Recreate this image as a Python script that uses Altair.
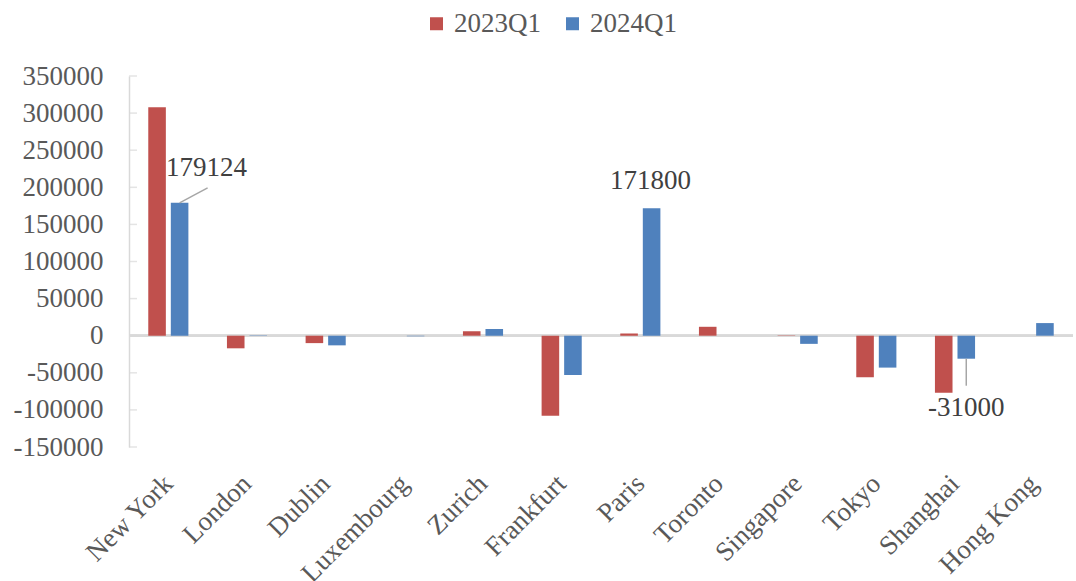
import altair as alt
import pandas as pd

cities = ["New York", "London", "Dublin", "Luxembourg", "Zurich", "Frankfurt",
          "Paris", "Toronto", "Singapore", "Tokyo", "Shanghai", "Hong Kong"]
series = ["2023Q1", "2024Q1"]
q2023 = [308000, -17000, -10000, 0, 6000, -108000, 3000, 12000, 500, -56000, -77000, 0]
q2024 = [179124, 500, -13000, -800, 9000, -53000, 171800, 0, -11000, -43000, -31000, 17000]
y_ticks = [-150000, -100000, -50000, 0, 50000, 100000, 150000, 200000, 250000, 300000, 350000]
colors = ["#C0504D", "#4F81BD"]

# annotations: city, series, value, label text
ann_city = ["New York", "Paris", "Shanghai"]
ann_value = [179124, 171800, -31000]
ann_text = ["179124", "171800", "-31000"]

FONT = "Liberation Serif"
FS = 27

rows = []
for c, a, b in zip(cities, q2023, q2024):
    rows.append({"city": c, "series": series[0], "value": a})
    rows.append({"city": c, "series": series[1], "value": b})
df = pd.DataFrame(rows)

ann = pd.DataFrame({"city": ann_city, "series": series[1], "value": ann_value, "label": ann_text})
ticks_df = pd.DataFrame({"v": y_ticks})

x_scale = alt.Scale(domain=cities, paddingInner=0.49, paddingOuter=0.245)
x_axis = alt.Axis(title=None, domain=False, ticks=False, labelAngle=-45,
                  labelAlign="right", labelBaseline="top", labelPadding=23,
                  labelFontSize=FS, labelColor="#595959", labelFont=FONT,
                  labelOffset=-9, labelOverlap=False, labelBound=False)
xo_scale = alt.Scale(domain=series, paddingInner=0.22)
y_scale = alt.Scale(domain=[-150000, 350000], nice=False)
y_axis = alt.Axis(title=None, values=y_ticks, grid=False, tickSize=0,
                  labelExpr="datum.value + ''",
                  labelOverlap=False, labelBound=False, labelFlush=False,
                  domainColor="#D9D9D9", domainWidth=1.5,
                  labelPadding=26, labelFontSize=FS, labelColor="#595959",
                  labelFont=FONT)


def X(field="city:N"):
    return alt.X(field, sort=cities, scale=x_scale, axis=x_axis)


def XO():
    return alt.XOffset("series:N", scale=xo_scale)


def Y(field="value:Q"):
    return alt.Y(field, scale=y_scale, axis=y_axis)


bars = alt.Chart(df).mark_bar().encode(
    x=X(),
    xOffset=XO(),
    y=Y(),
    color=alt.Color("series:N", scale=alt.Scale(domain=series, range=colors),
                    legend=alt.Legend(title=None, orient="none", legendX=294, legendY=-66,
                                      direction="horizontal", symbolType="square",
                                      symbolSize=169, symbolStrokeWidth=0,
                                      labelFontSize=FS, labelFont=FONT, labelColor="#595959",
                                      labelOffset=4, columnPadding=18, padding=0)),
)

zero = alt.Chart(df).mark_rule(color="#D9D9D9", strokeWidth=2).encode(
    y=alt.datum(0, scale=y_scale, axis=y_axis))

inner_ticks = alt.Chart(ticks_df).mark_tick(orient="horizontal", color="#D9D9D9",
                                            size=8, thickness=1.5).encode(
    y=Y("v:Q"), x=alt.value(4))

layers = [zero, bars, inner_ticks]

offsets = {
    "New York": dict(dx=27, dy=-35, path="M0,0L2.8,-1.5"),
    "Paris": dict(dx=-1, dy=-27, path=None),
    "Shanghai": dict(dx=0, dy=49, path="M0,0L0,2.7"),
}
for c in ann_city:
    sub = ann[ann["city"] == c]
    o = offsets[c]
    layers.append(alt.Chart(sub).mark_text(dx=o["dx"], dy=o["dy"], fontSize=FS, font=FONT,
                                           color="#404040", baseline="middle", align="center")
                  .encode(x=X(), xOffset=XO(), y=Y(), text="label:N"))
    if o["path"]:
        layers.append(alt.Chart(sub).mark_point(shape=o["path"], size=400, filled=False,
                                                color="#A6A6A6", strokeWidth=1.5, opacity=1)
                      .encode(x=X(), xOffset=XO(), y=Y()))

chart = alt.layer(*layers).properties(
    width=944, height=371,
    autosize=alt.AutoSizeParams(type="none"),
    padding={"left": 129, "top": 76, "right": 3, "bottom": 134},
    background="white",
).configure(font=FONT).configure_view(stroke=None).configure_axis(labelOverlap=False)

chart.save("out.html", embed_options={"renderer": "svg", "actions": False})
